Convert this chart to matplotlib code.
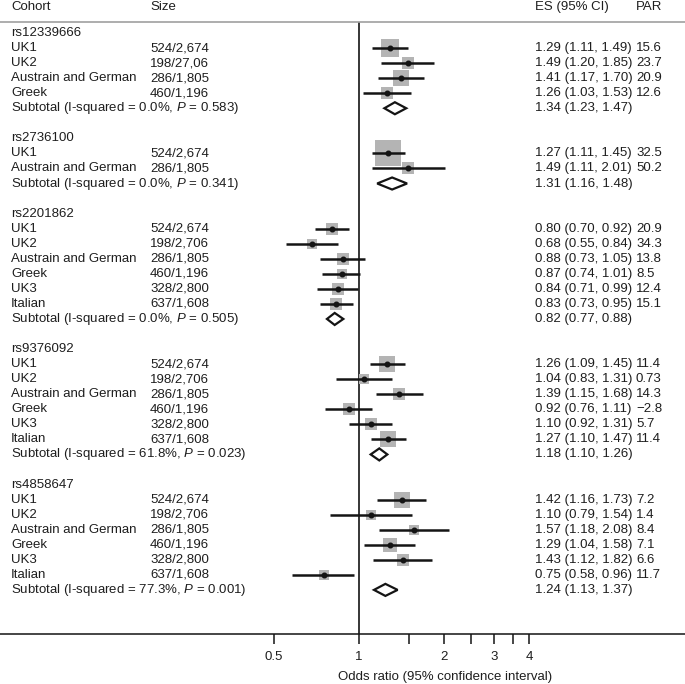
import matplotlib.pyplot as plt
import matplotlib.transforms as mtransforms
from matplotlib.ticker import FixedLocator, NullFormatter

# forest plot data, one list per SNP group
groups = ['rs12339666', 'rs2736100', 'rs2201862', 'rs9376092', 'rs4858647']

cohorts = [
    ['UK1', 'UK2', 'Austrain and German', 'Greek'],
    ['UK1', 'Austrain and German'],
    ['UK1', 'UK2', 'Austrain and German', 'Greek', 'UK3', 'Italian'],
    ['UK1', 'UK2', 'Austrain and German', 'Greek', 'UK3', 'Italian'],
    ['UK1', 'UK2', 'Austrain and German', 'Greek', 'UK3', 'Italian'],
]
sizes = [
    ['524/2,674', '198/27,06', '286/1,805', '460/1,196'],
    ['524/2,674', '286/1,805'],
    ['524/2,674', '198/2,706', '286/1,805', '460/1,196', '328/2,800', '637/1,608'],
    ['524/2,674', '198/2,706', '286/1,805', '460/1,196', '328/2,800', '637/1,608'],
    ['524/2,674', '198/2,706', '286/1,805', '460/1,196', '328/2,800', '637/1,608'],
]
es = [
    [1.29, 1.49, 1.41, 1.26],
    [1.27, 1.49],
    [0.80, 0.68, 0.88, 0.87, 0.84, 0.83],
    [1.26, 1.04, 1.39, 0.92, 1.10, 1.27],
    [1.42, 1.10, 1.57, 1.29, 1.43, 0.75],
]
lo = [
    [1.11, 1.20, 1.17, 1.03],
    [1.11, 1.11],
    [0.70, 0.55, 0.73, 0.74, 0.71, 0.73],
    [1.09, 0.83, 1.15, 0.76, 0.92, 1.10],
    [1.16, 0.79, 1.18, 1.04, 1.12, 0.58],
]
hi = [
    [1.49, 1.85, 1.70, 1.53],
    [1.45, 2.01],
    [0.92, 0.84, 1.05, 1.01, 0.99, 0.95],
    [1.45, 1.31, 1.68, 1.11, 1.31, 1.47],
    [1.73, 1.54, 2.08, 1.58, 1.82, 0.96],
]
par = [
    ['15.6', '23.7', '20.9', '12.6'],
    ['32.5', '50.2'],
    ['20.9', '34.3', '13.8', '8.5', '12.4', '15.1'],
    ['11.4', '0.73', '14.3', '\u22122.8', '5.7', '11.4'],
    ['7.2', '1.4', '8.4', '7.1', '6.6', '11.7'],
]
# study weights (relative, drives the grey square area)
weights = [
    [31.6, 16.5, 22.0, 16.5],
    [66.0, 14.1],
    [16.5, 9.8, 14.1, 11.8, 14.1, 16.5],
    [25.0, 9.8, 14.1, 14.1, 14.1, 25.0],
    [22.0, 9.8, 9.8, 19.1, 14.1, 11.8],
]
sub_es = [1.34, 1.31, 0.82, 1.18, 1.24]
sub_lo = [1.23, 1.16, 0.77, 1.10, 1.13]
sub_hi = [1.47, 1.48, 0.88, 1.26, 1.37]
sub_i2 = ['0.0', '0.0', '0.0', '61.8', '77.3']
sub_p = ['0.583', '0.341', '0.505', '0.023', '0.001']

xticks = [0.5, 1, 2, 3, 4]
xticklabels = ['0.5', '1', '2', '3', '4']
xminor = [1.5, 2.5, 3.5]

plt.rcParams['font.family'] = ['Liberation Sans', 'DejaVu Sans']
plt.rcParams['mathtext.fontset'] = 'custom'
plt.rcParams['mathtext.rm'] = 'Liberation Sans'
plt.rcParams['mathtext.it'] = 'Liberation Sans:italic'

W, H = 685, 684
fs = 9.5
tc = '#1e1e1e'

fig = plt.figure(figsize=(W / 100, H / 100), dpi=100)
ax = fig.add_axes([0, 50 / H, 1, (634 - 22) / H])
ax.set_xscale('log')
ax.set_xlim(0.0535, 14.28)
ax.set_ylim(39.93, -0.73)

trans = mtransforms.blended_transform_factory(ax.transAxes, ax.transData)
col_cohort, col_size, col_es, col_par = 11 / W, 150 / W, 535 / W, 636 / W


def put(x, y, s):
    ax.text(x, y, s, transform=trans, fontsize=fs, color=tc, va='center', ha='left')


# headers
put(col_cohort, -1.73, 'Cohort')
put(col_size, -1.73, 'Size')
put(col_es, -1.73, 'ES (95% CI)')
put(col_par, -1.73, 'PAR')

row = 0
for g in range(len(groups)):
    put(col_cohort, row, groups[g])
    row += 1
    for i in range(len(cohorts[g])):
        put(col_cohort, row, cohorts[g][i])
        put(col_size, row, sizes[g][i])
        put(col_es, row, '{:.2f} ({:.2f}, {:.2f})'.format(es[g][i], lo[g][i], hi[g][i]))
        put(col_par, row, par[g][i])
        side = 3.2 * weights[g][i] ** 0.5 * 0.72
        ax.scatter(es[g][i], row, marker='s', s=side ** 2, color='#b4b4b4',
                   linewidths=0, zorder=2)
        ax.plot([lo[g][i], hi[g][i]], [row, row], color='#141414', lw=1.8,
                solid_capstyle='butt', zorder=3)
        ax.scatter(es[g][i], row, marker='o', s=11, color='#141414', zorder=4)
        row += 1
    put(col_cohort, row, 'Subtotal (I-squared = {}%, $\\it{{P}}$ = {})'.format(sub_i2[g], sub_p[g]))
    put(col_es, row, '{:.2f} ({:.2f}, {:.2f})'.format(sub_es[g], sub_lo[g], sub_hi[g]))
    ax.fill([sub_lo[g], sub_es[g], sub_hi[g], sub_es[g]],
            [row, row - 0.4, row, row + 0.4],
            facecolor='white', edgecolor='#141414', lw=1.6, zorder=3)
    row += 2

ax.axvline(1, color='#141414', lw=1.2, zorder=1)

for side_name in ['left', 'right']:
    ax.spines[side_name].set_visible(False)
ax.spines['top'].set_color('#a0a0a0')
ax.spines['top'].set_linewidth(1.2)
ax.spines['bottom'].set_color('#141414')
ax.spines['bottom'].set_linewidth(1.1)

ax.set_yticks([])
ax.set_xticks(xticks)
ax.set_xticklabels(xticklabels)
ax.xaxis.set_minor_locator(FixedLocator(xminor))
ax.xaxis.set_minor_formatter(NullFormatter())
ax.tick_params(axis='x', which='both', direction='out', length=7, width=1.1,
               color='#141414', labelsize=fs, labelcolor=tc, pad=5)

fig.text(445 / W, 1 - 677 / H, 'Odds ratio (95% confidence interval)',
         fontsize=fs, color=tc, ha='center', va='center')

fig.savefig('out.png', dpi=100)
